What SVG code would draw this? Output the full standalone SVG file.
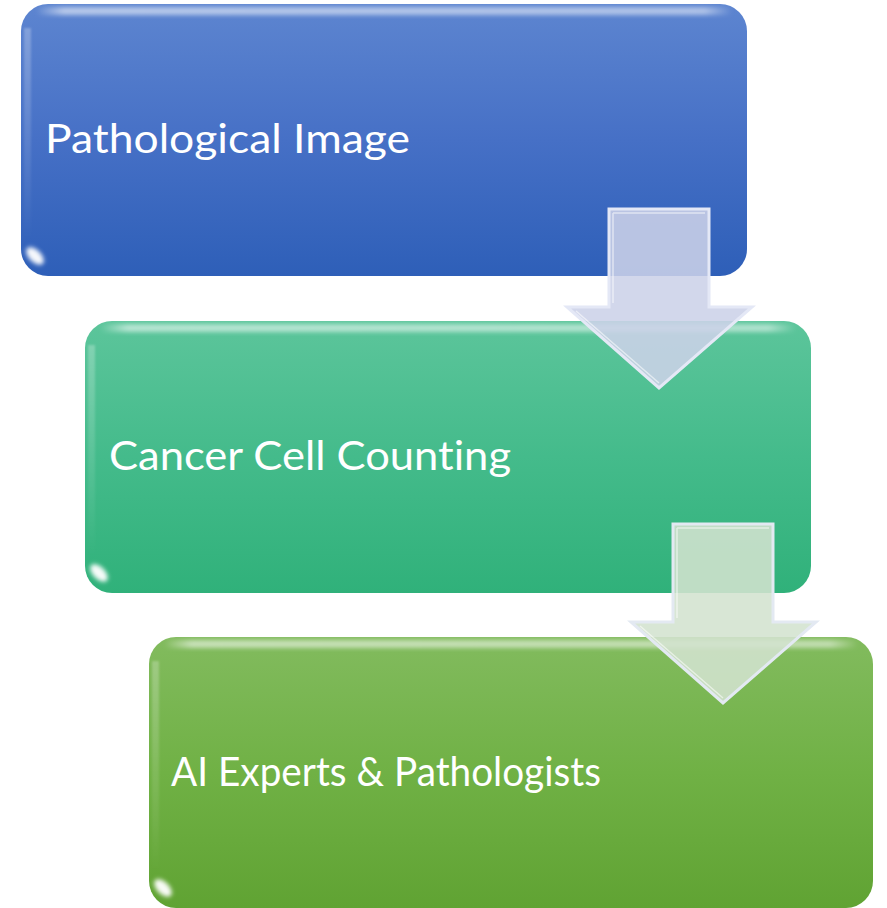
<svg xmlns="http://www.w3.org/2000/svg" width="887" height="908" viewBox="0 0 887 908">
<defs>
<linearGradient id="gBlue" x1="0" y1="0" x2="0" y2="1">
<stop offset="0" stop-color="#5d85d0"/><stop offset="0.5" stop-color="#4670c6"/><stop offset="1" stop-color="#2e5fb8"/>
</linearGradient>
<linearGradient id="gTeal" x1="0" y1="0" x2="0" y2="1">
<stop offset="0" stop-color="#5cc59b"/><stop offset="0.5" stop-color="#44bb8b"/><stop offset="1" stop-color="#30b17a"/>
</linearGradient>
<linearGradient id="gGreen" x1="0" y1="0" x2="0" y2="1">
<stop offset="0" stop-color="#82bb5e"/><stop offset="0.5" stop-color="#70b145"/><stop offset="1" stop-color="#60a333"/>
</linearGradient>
<linearGradient id="gTop" x1="0" y1="0" x2="1" y2="0">
<stop offset="0" stop-color="#fff" stop-opacity="0"/><stop offset="0.04" stop-color="#fff" stop-opacity="0.55"/><stop offset="0.96" stop-color="#fff" stop-opacity="0.5"/><stop offset="1" stop-color="#fff" stop-opacity="0"/>
</linearGradient>
<linearGradient id="gLeft" x1="0" y1="0" x2="0" y2="1">
<stop offset="0" stop-color="#fff" stop-opacity="0.25"/><stop offset="1" stop-color="#fff" stop-opacity="0"/>
</linearGradient>
<filter id="blur2" x="-50%" y="-50%" width="200%" height="200%"><feGaussianBlur stdDeviation="2"/></filter>
<filter id="blur1" x="-20%" y="-20%" width="140%" height="140%"><feGaussianBlur stdDeviation="0.8"/></filter>
</defs>
<style>
.lbl{font-family:Lato,"Open Sans","Liberation Sans",sans-serif;font-size:40.5px;fill:#ffffff;font-variant-ligatures:none;font-feature-settings:"liga" 0;}
.hl{fill:url(#gTop);filter:url(#blur2);}
.ls{fill:url(#gLeft);filter:url(#blur1);}
.rim{fill:none;stroke:#ffffff;stroke-opacity:0.75;stroke-width:1.5;filter:url(#blur1);}
.glint{fill:#ffffff;fill-opacity:0.95;filter:url(#blur2);}
.arrow1{fill:#ccd2e8;fill-opacity:0.88;stroke:#e4e8f6;stroke-width:3;stroke-linejoin:miter;}
.arrow2{fill:#d3e2cf;fill-opacity:0.88;stroke:#e3e9f2;stroke-width:3;stroke-linejoin:miter;}
.bevel{fill:none;stroke:#ffffff;stroke-opacity:0.55;stroke-width:1.5;}
</style>

<g id="node-pathological-image">
<rect x="21" y="4" width="726" height="272" rx="27" ry="27" fill="url(#gBlue)"/>
<rect class="hl" x="36" y="7" width="696" height="8" rx="4"/>
<rect class="ls" x="24" y="28" width="7" height="210"/>
<path class="rim" d="M745,30 L745,250"/>
<ellipse class="glint" cx="35" cy="256" rx="6" ry="11" transform="rotate(-45 35 256)"/>
<text class="lbl" x="45" y="153" textLength="365" lengthAdjust="spacingAndGlyphs">Pathological Image</text>
</g>

<g id="node-cancer-cell-counting">
<rect x="85" y="321" width="726" height="272" rx="27" ry="27" fill="url(#gTeal)"/>
<rect class="hl" x="100" y="324" width="696" height="8" rx="4"/>
<rect class="ls" x="88" y="345" width="7" height="210"/>
<path class="rim" d="M809,347 L809,567"/>
<ellipse class="glint" cx="99" cy="573" rx="6" ry="11" transform="rotate(-45 99 573)"/>
<text class="lbl" x="109" y="470" textLength="402" lengthAdjust="spacingAndGlyphs">Cancer Cell Counting</text>
</g>

<g id="node-ai-experts-pathologists">
<rect x="149" y="637" width="724" height="271" rx="27" ry="27" fill="url(#gGreen)"/>
<rect class="hl" x="164" y="640" width="694" height="8" rx="4"/>
<rect class="ls" x="152" y="661" width="7" height="210"/>
<path class="rim" d="M871,663 L871,883"/>
<ellipse class="glint" cx="163" cy="888" rx="6" ry="11" transform="rotate(-45 163 888)"/>
<text class="lbl" x="171" y="786" textLength="430" lengthAdjust="spacingAndGlyphs">AI Experts &amp; Pathologists</text>
</g>

<g id="connectors">
<g id="arrow-1">
<path class="arrow1" d="M609,209 L709,209 L709,307 L752,307 L659,388 L567,307 L609,307 Z"/>
<path class="bevel" d="M613,213 L705,213 M613,213 L613,303 M576,311 L659,383"/>
</g>
<g id="arrow-2">
<path class="arrow2" d="M673,524 L773,524 L773,622 L816,622 L723,703 L631,622 L673,622 Z"/>
<path class="bevel" d="M677,528 L769,528 M677,528 L677,618 M640,626 L723,698"/>
</g>
</g>
</svg>
